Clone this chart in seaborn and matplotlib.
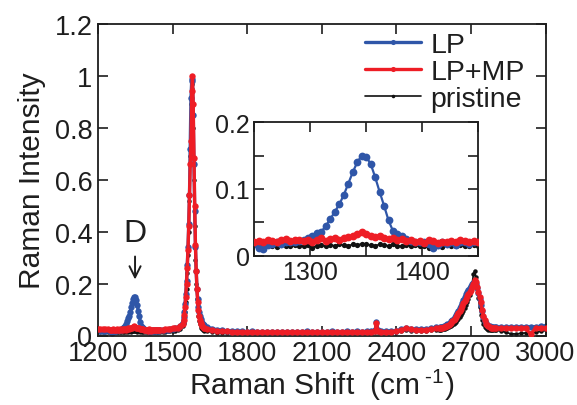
import numpy as np
import pandas as pd
import matplotlib
matplotlib.use("Agg")
import matplotlib.pyplot as plt
import seaborn as sns
from matplotlib.ticker import FuncFormatter, MultipleLocator

# ---------------- data ----------------
raman_shift = (
    [1200, 1210, 1220, 1230, 1240]
    + [1250, 1254, 1258, 1262, 1266, 1270, 1274, 1278, 1282, 1286,
       1290, 1294, 1298, 1302, 1306, 1310, 1314, 1318, 1322, 1326,
       1330, 1334, 1338, 1342, 1346, 1350, 1354, 1358, 1362, 1366,
       1370, 1374, 1378, 1382, 1386, 1390, 1394, 1398, 1402, 1406,
       1410, 1414, 1418, 1422, 1426, 1430, 1434, 1438, 1442, 1446, 1450]
    + [1460, 1470, 1480, 1490, 1500, 1510, 1520, 1530, 1540]
    + [1544, 1547, 1550, 1553, 1556, 1559, 1562, 1565, 1568, 1571,
       1574, 1577, 1580, 1583, 1586, 1589, 1592, 1595, 1598, 1601,
       1604, 1607, 1610, 1613, 1616, 1619, 1622, 1625, 1628]
    + [1640, 1660, 1680, 1700, 1720, 1740, 1760, 1780, 1800, 1820,
       1840, 1860, 1880, 1900, 1920, 1940, 1960, 1980, 2000, 2020,
       2040, 2060, 2080, 2100, 2120, 2140, 2160, 2180, 2200, 2220,
       2240, 2260, 2280, 2300, 2315, 2320, 2325,
       2340, 2360, 2380, 2400, 2420, 2440, 2460, 2480, 2500, 2520, 2540, 2560]
    + [2570, 2575, 2580, 2585, 2590, 2595, 2600, 2605, 2610, 2615,
       2620, 2625, 2630, 2635, 2640, 2645, 2650, 2655, 2660, 2665,
       2670, 2675, 2680, 2685, 2690, 2695, 2700, 2705, 2710, 2715,
       2720, 2725, 2730, 2735, 2740, 2745, 2750, 2755, 2760, 2765,
       2770, 2775, 2780, 2785, 2790, 2795, 2800]
    + [2820, 2840, 2860, 2880, 2900, 2920, 2940, 2960, 2980, 3000]
)

lp = (
    [0.022, 0.019, 0.017, 0.019, 0.020]
    + [0.018, 0.012, 0.010, 0.016, 0.018, 0.020, 0.018, 0.020, 0.021, 0.020,
       0.022, 0.023, 0.026, 0.030, 0.034, 0.036, 0.045, 0.055, 0.066, 0.077,
       0.091, 0.108, 0.125, 0.140, 0.150, 0.148, 0.138, 0.118, 0.096, 0.075,
       0.053, 0.037, 0.032, 0.030, 0.025, 0.022, 0.020, 0.020, 0.021, 0.018,
       0.012, 0.016, 0.020, 0.018, 0.020, 0.016, 0.020, 0.020, 0.018, 0.020, 0.020]
    + [0.020, 0.021, 0.022, 0.024, 0.025, 0.027, 0.030, 0.036, 0.050]
    + [0.07, 0.09, 0.12, 0.16, 0.21, 0.27, 0.34, 0.43, 0.54, 0.72,
       0.915, 0.98, 0.99, 0.85, 0.66, 0.48, 0.34, 0.25, 0.18, 0.14,
       0.11, 0.09, 0.075, 0.065, 0.055, 0.05, 0.045, 0.04, 0.035]
    + [0.032, 0.026, 0.022, 0.020, 0.018, 0.017, 0.016, 0.016, 0.015, 0.016,
       0.015, 0.014, 0.015, 0.014, 0.015, 0.014, 0.015, 0.014, 0.015, 0.014,
       0.016, 0.014, 0.015, 0.014, 0.015, 0.016, 0.015, 0.014, 0.016, 0.015,
       0.016, 0.015, 0.016, 0.017, 0.020, 0.052, 0.020,
       0.017, 0.016, 0.017, 0.018, 0.024, 0.030, 0.026, 0.024, 0.024, 0.026, 0.028, 0.031]
    + [0.030, 0.031, 0.032, 0.033, 0.035, 0.037, 0.040, 0.043, 0.046, 0.050,
       0.054, 0.059, 0.065, 0.071, 0.078, 0.086, 0.095, 0.105, 0.115, 0.126,
       0.137, 0.148, 0.158, 0.167, 0.176, 0.184, 0.191, 0.197, 0.202, 0.205,
       0.198, 0.183, 0.163, 0.142, 0.118, 0.094, 0.073, 0.057, 0.047, 0.041,
       0.037, 0.035, 0.034, 0.033, 0.033, 0.032, 0.032]
    + [0.031, 0.031, 0.032, 0.032, 0.033, 0.033, 0.034, 0.034, 0.035, 0.036]
)

lp_mp = (
    [0.025, 0.026, 0.024, 0.025, 0.024]
    + [0.020, 0.022, 0.021, 0.024, 0.022, 0.020, 0.023, 0.025, 0.022, 0.023,
       0.024, 0.022, 0.024, 0.021, 0.024, 0.026, 0.022, 0.025, 0.027, 0.024,
       0.027, 0.028, 0.030, 0.033, 0.036, 0.032, 0.030, 0.028, 0.030, 0.027,
       0.025, 0.026, 0.024, 0.025, 0.022, 0.023, 0.020, 0.022, 0.019, 0.024,
       0.022, 0.019, 0.021, 0.020, 0.022, 0.021, 0.023, 0.022, 0.020, 0.022, 0.021]
    + [0.022, 0.024, 0.025, 0.026, 0.027, 0.028, 0.030, 0.035, 0.045]
    + [0.06, 0.08, 0.11, 0.15, 0.20, 0.26, 0.33, 0.42, 0.54, 0.66,
       0.75, 0.94, 1.00, 0.89, 0.685, 0.50, 0.35, 0.25, 0.18, 0.13,
       0.10, 0.075, 0.06, 0.05, 0.043, 0.038, 0.034, 0.030, 0.028]
    + [0.026, 0.022, 0.019, 0.017, 0.016, 0.015, 0.014, 0.014, 0.013, 0.014,
       0.013, 0.012, 0.013, 0.012, 0.013, 0.012, 0.013, 0.012, 0.013, 0.012,
       0.014, 0.012, 0.013, 0.012, 0.013, 0.014, 0.013, 0.012, 0.014, 0.013,
       0.014, 0.013, 0.014, 0.015, 0.018, 0.048, 0.018,
       0.015, 0.014, 0.015, 0.016, 0.022, 0.028, 0.024, 0.022, 0.022, 0.023, 0.025, 0.027]
    + [0.027, 0.027, 0.028, 0.029, 0.031, 0.033, 0.035, 0.038, 0.041, 0.045,
       0.049, 0.054, 0.059, 0.065, 0.071, 0.078, 0.086, 0.095, 0.104, 0.114,
       0.124, 0.133, 0.142, 0.151, 0.160, 0.168, 0.177, 0.186, 0.198, 0.212,
       0.205, 0.188, 0.168, 0.148, 0.128, 0.100, 0.077, 0.058, 0.046, 0.039,
       0.035, 0.032, 0.030, 0.029, 0.028, 0.028, 0.027]
    + [0.027, 0.028, 0.027, 0.028, 0.027, 0.028, 0.005, 0.028, 0.029, 0.030]
)

pristine = (
    [0.016, 0.015, 0.014, 0.015, 0.015]
    + [0.016, 0.015, 0.014, 0.016, 0.015, 0.013, 0.016, 0.015, 0.014, 0.016,
       0.015, 0.014, 0.016, 0.012, 0.015, 0.016, 0.014, 0.016, 0.015, 0.017,
       0.016, 0.015, 0.017, 0.016, 0.018, 0.017, 0.016, 0.015, 0.017, 0.016,
       0.015, 0.017, 0.015, 0.014, 0.016, 0.015, 0.016, 0.014, 0.015, 0.012,
       0.016, 0.015, 0.013, 0.016, 0.015, 0.014, 0.016, 0.015, 0.014, 0.016, 0.015]
    + [0.015, 0.015, 0.016, 0.016, 0.017, 0.018, 0.020, 0.025, 0.035]
    + [0.05, 0.065, 0.09, 0.13, 0.18, 0.24, 0.31, 0.40, 0.52, 0.69,
       0.89, 0.97, 0.95, 0.80, 0.60, 0.42, 0.29, 0.20, 0.14, 0.10,
       0.075, 0.055, 0.045, 0.035, 0.030, 0.025, 0.022, 0.020, 0.018]
    + [0.016, 0.013, 0.011, 0.010, 0.009, 0.009, 0.008, 0.009, 0.008, 0.008,
       0.009, 0.008, 0.008, 0.009, 0.008, 0.008, 0.009, 0.008, 0.008, 0.009,
       0.008, 0.009, 0.008, 0.008, 0.009, 0.008, 0.009, 0.008, 0.009, 0.008,
       0.009, 0.009, 0.010, 0.010, 0.012, 0.035, 0.012,
       0.010, 0.010, 0.011, 0.012, 0.016, 0.020, 0.018, 0.017, 0.017, 0.018, 0.020, 0.022]
    + [0.022, 0.022, 0.023, 0.024, 0.025, 0.026, 0.028, 0.030, 0.032, 0.035,
       0.038, 0.041, 0.045, 0.049, 0.053, 0.058, 0.064, 0.071, 0.078, 0.086,
       0.095, 0.105, 0.116, 0.128, 0.140, 0.155, 0.172, 0.200, 0.235, 0.250,
       0.225, 0.185, 0.145, 0.110, 0.080, 0.058, 0.043, 0.034, 0.028, 0.025,
       0.023, 0.022, 0.021, 0.021, 0.020, 0.020, 0.020]
    + [0.018, 0.012, 0.007, 0.006, 0.008, 0.010, 0.008, 0.012, 0.016, 0.020]
)

series_names = ["LP", "LP+MP", "pristine"]
x_ticks = [1200, 1500, 1800, 2100, 2400, 2700, 3000]
inset_x_ticks = [1300, 1400]

assert len(raman_shift) == len(lp) == len(lp_mp) == len(pristine)

df = pd.DataFrame({
    "shift": raman_shift * 3,
    "intensity": lp + lp_mp + pristine,
    "sample": [series_names[0]] * len(lp) + [series_names[1]] * len(lp_mp)
              + [series_names[2]] * len(pristine),
})

# ---------------- style ----------------
sns.set_theme(style="ticks")
plt.rcParams["font.family"] = ["Liberation Sans", "DejaVu Sans"]
plt.rcParams["mathtext.fontset"] = "custom"
plt.rcParams["mathtext.rm"] = "Liberation Sans"
plt.rcParams["mathtext.default"] = "regular"

INK = "#1e1e1e"
colors = {"LP": "#2f56a8", "LP+MP": "#ee1d25", "pristine": "#111111"}
main_style = {"LP": (2.4, 4.6), "LP+MP": (2.4, 4.6), "pristine": (1.2, 3.2)}
inset_style = {"LP": (1.6, 5.6), "LP+MP": (1.6, 5.6), "pristine": (1.1, 3.8)}
zorders = {"LP": 2, "LP+MP": 3, "pristine": 1}

W, H = 577, 406
fig = plt.figure(figsize=(W / 100, H / 100), dpi=100)

def px_axes(l, t, r, b):
    return fig.add_axes([l / W, 1 - b / H, (r - l) / W, (b - t) / H])

ax = px_axes(98, 25, 545.5, 336.5)
ax_in = px_axes(254.3, 123.3, 478, 256.7)

fmt = FuncFormatter(lambda v, p: f"{v:g}")

for axis, style in ((ax, main_style), (ax_in, inset_style)):
    for name in ["pristine", "LP", "LP+MP"]:
        sub = df[df["sample"] == name]
        lw, ms = style[name]
        sns.lineplot(data=sub, x="shift", y="intensity", ax=axis, sort=False,
                     color=colors[name], lw=lw, marker="o", markersize=ms,
                     markeredgewidth=0, label=name if axis is ax else None,
                     zorder=zorders[name], legend=False, estimator=None)

# main axes
ax.set_xlim(1200, 3000)
ax.set_ylim(0, 1.2)
ax.set_xticks(x_ticks)
ax.yaxis.set_major_locator(MultipleLocator(0.2))
ax.yaxis.set_major_formatter(fmt)
ax.tick_params(direction="in", length=7, width=1.2, labelsize=19.5,
               top=True, right=True, pad=4, color=INK, labelcolor=INK)
ax.tick_params(axis="x", pad=3)
ax.set_xlabel("Raman Shift  (cm$\\,^{\\text{-}1}$)", fontsize=21.5, labelpad=1,
              color=INK)
ax.set_ylabel("Raman Intensity", fontsize=21.5, labelpad=6, color=INK)
for s in ax.spines.values():
    s.set_linewidth(1.3)
    s.set_color(INK)

# inset axes
ax_in.set_xlim(1250, 1450)
ax_in.set_ylim(0, 0.2)
ax_in.set_xticks(inset_x_ticks)
ax_in.xaxis.set_minor_locator(MultipleLocator(50))
ax_in.yaxis.set_major_locator(MultipleLocator(0.1))
ax_in.yaxis.set_minor_locator(MultipleLocator(0.05))
ax_in.yaxis.set_major_formatter(fmt)
ax_in.set_xlabel("")
ax_in.set_ylabel("")
ax_in.tick_params(which="both", direction="in", length=7, width=1.2,
                  labelsize=18, top=True, right=True, pad=3, color=INK,
                  labelcolor=INK)
for s in ax_in.spines.values():
    s.set_linewidth(1.3)
    s.set_color(INK)
ax_in.set_facecolor("white")

# D annotation
ax.annotate("", xy=(1349, 0.205), xytext=(1349, 0.315),
            arrowprops=dict(arrowstyle="->", lw=1.4, color=INK,
                            mutation_scale=20))
ax.text(1349, 0.395, "D", ha="center", va="center", fontsize=23, color=INK)

# legend
handles, labels = ax.get_legend_handles_labels()
order = [labels.index(n) for n in series_names]
leg = ax.legend([handles[i] for i in order], [labels[i] for i in order],
                loc="upper left", bbox_to_anchor=(365 / W, 1 - 33 / H),
                bbox_transform=fig.transFigure, frameon=False, fontsize=20.5,
                handlelength=1.95, handletextpad=0.35, labelspacing=0.04,
                borderpad=0, borderaxespad=0, markerscale=0.8)
for t in leg.get_texts():
    t.set_color(INK)

fig.savefig("out.png", dpi=100)
